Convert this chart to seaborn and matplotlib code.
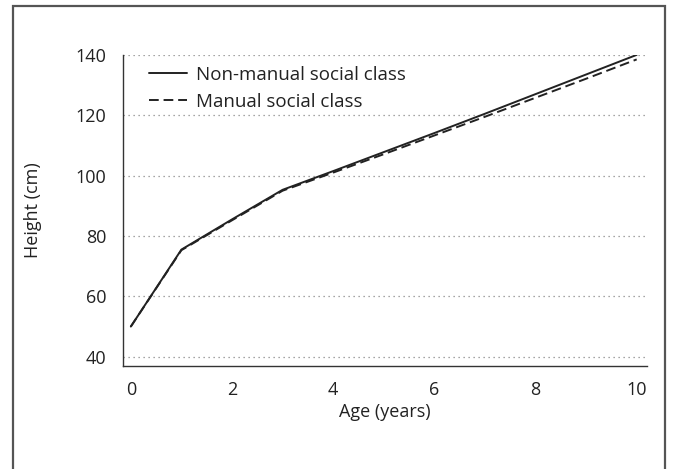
import numpy as np
import pandas as pd
import matplotlib.pyplot as plt
import seaborn as sns
from matplotlib.patches import Rectangle

# Veriler (grafikten okunan tahmini değerler)
age = [0, 1, 2, 3, 4, 5, 6, 7, 8, 9, 10]
non_manual = [50, 75.5, 85.5, 95.3, 101.5, 107.8, 114.1, 120.5, 127.0, 133.5, 140.0]
manual = [50, 75.3, 85.2, 95.0, 101.0, 107.1, 113.3, 119.5, 125.8, 132.1, 138.5]
labels = ["Non-manual social class", "Manual social class"]
y_ticks = [40, 60, 80, 100, 120, 140]
x_ticks = [0, 2, 4, 6, 8, 10]

df = pd.concat([
    pd.DataFrame({"Age": age, "Height": non_manual, "Group": labels[0]}),
    pd.DataFrame({"Age": age, "Height": manual, "Group": labels[1]}),
])

sns.set_style("white")
plt.rcParams['font.family'] = ['Open Sans', 'DejaVu Sans']

fig = plt.figure(figsize=(6.78, 4.69), dpi=100)
ax = fig.add_axes([0.181, 0.22, 0.773, 0.663])

sns.lineplot(data=df, x="Age", y="Height", style="Group", style_order=labels,
             dashes={labels[0]: "", labels[1]: (5, 2.5)},
             color="#222222", linewidth=1.4, ax=ax)

ax.set_xlim(-0.16, 10.2)
ax.set_ylim(37, 140)
ax.set_xticks(x_ticks)
ax.set_yticks(y_ticks)
ax.yaxis.grid(True, linestyle=(0, (1, 3)), color="#888888", linewidth=0.9)
ax.set_axisbelow(True)

for s in ["top", "right"]:
    ax.spines[s].set_visible(False)
for s in ["left", "bottom"]:
    ax.spines[s].set_color("#333333")
    ax.spines[s].set_linewidth(1.0)
ax.tick_params(axis="both", direction="out", length=8, width=1.0,
               color="#555555", labelsize=13, labelcolor="#222222", pad=4)
ax.tick_params(axis="x", pad=3)

ax.set_xlabel("Age (years)", fontsize=13, color="#222222", labelpad=3)
ax.set_ylabel("Height (cm)", fontsize=13, color="#222222", labelpad=24)

leg = ax.legend(loc="upper left", frameon=False, fontsize=13.5, handlelength=2.0,
                handletextpad=0.5, labelspacing=0.5,
                bbox_to_anchor=(0.018, 1.02))
for t in leg.get_texts():
    t.set_color("#222222")

# Dış çerçeve
frame = Rectangle((13 / 678, -0.05), 652 / 678, 1.05 - 6 / 469,
                  transform=fig.transFigure, fill=False,
                  edgecolor="#555555", linewidth=1.6, clip_on=False)
fig.patches.append(frame)

fig.savefig("out.png", dpi=100)
